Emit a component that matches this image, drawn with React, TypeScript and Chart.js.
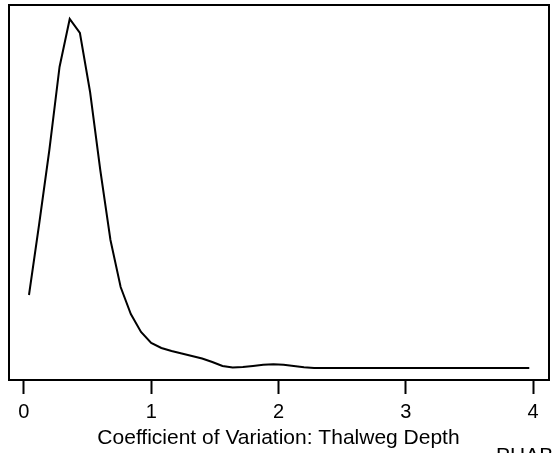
import React, { useEffect, useRef } from "react";
import { Chart, registerables } from "chart.js";

Chart.register(...registerables);

const xValues = [
  0.04, 0.12, 0.2, 0.28, 0.36, 0.44, 0.52, 0.6, 0.68, 0.76,
  0.84, 0.92, 1.0, 1.08, 1.16, 1.24, 1.32, 1.4, 1.48, 1.56,
  1.64, 1.72, 1.8, 1.88, 1.96, 2.04, 2.12, 2.2, 2.28, 2.36,
  2.44, 2.52, 2.6, 2.68, 2.76, 2.84, 2.92, 3.0, 3.08, 3.17,
  3.25, 3.33, 3.41, 3.49, 3.57, 3.65, 3.73, 3.81, 3.89, 3.97,
];
const densityValues = [
  0.73, 1.44, 2.18, 3.01, 3.49, 3.35, 2.76, 1.98, 1.28, 0.81,
  0.54, 0.36, 0.25, 0.2, 0.17, 0.145, 0.12, 0.095, 0.06, 0.02,
  0.005, 0.01, 0.02, 0.032, 0.037, 0.032, 0.02, 0.007, 0.0, 0.0,
  0.0, 0.0, 0.0, 0.0, 0.0, 0.0, 0.0, 0.0, 0.0, 0.0,
  0.0, 0.0, 0.0, 0.0, 0.0, 0.0, 0.0, 0.0, 0.0, 0.0,
];
const xTicks = [0, 1, 2, 3, 4];
const xLabel = "Coefficient of Variation: Thalweg Depth";
const cornerLabel = "PHAB";

const FONT = "'Liberation Sans', Arial, sans-serif";

export default function App() {
  const ref = useRef<HTMLCanvasElement>(null);
  useEffect(() => {
    if (!ref.current) return;
    const boxPlugin = {
      id: "boxPlugin",
      afterDraw(chart: any) {
        const { ctx, chartArea } = chart;
        ctx.save();
        ctx.strokeStyle = "#000";
        ctx.lineWidth = 2;
        ctx.strokeRect(chartArea.left, chartArea.top, chartArea.right - chartArea.left, chartArea.bottom - chartArea.top);
        ctx.fillStyle = "#000";
        ctx.font = `21px ${FONT}`;
        ctx.textBaseline = "alphabetic";
        ctx.textAlign = "center";
        const xs = chart.scales.x;
        const cx = (xs.getPixelForValue(xTicks[0]) + xs.getPixelForValue(xTicks[xTicks.length - 1])) / 2;
        ctx.fillText(xLabel, cx, 444);
        ctx.textAlign = "left";
        ctx.fillText(cornerLabel, 496, 462);
        ctx.restore();
      },
    };
    const chart = new Chart(ref.current, {
      type: "line",
      data: {
        datasets: [
          {
            data: xValues.map((x, i) => ({ x, y: densityValues[i] })),
            borderColor: "#000",
            borderWidth: 2,
            pointRadius: 0,
            tension: 0,
            fill: false,
          },
        ],
      },
      options: {
        responsive: false,
        animation: false,
        layout: { padding: { left: 9, right: 9, top: 5, bottom: 0 } },
        plugins: { legend: { display: false }, tooltip: { enabled: false }, title: { display: false } },
        scales: {
          x: {
            type: "linear",
            min: -0.117,
            max: 4.125,
            afterBuildTicks(scale: any) {
              scale.ticks = xTicks.map((v) => ({ value: v }));
            },
            afterFit(scale: any) {
              scale.height = 73;
            },
            border: { display: false },
            grid: {
              drawOnChartArea: false,
              drawTicks: true,
              tickLength: 14,
              tickWidth: 2,
              tickColor: "#000",
            },
            ticks: {
              color: "#000",
              font: { family: FONT, size: 20 },
              padding: 6,
              maxRotation: 0,
              autoSkip: false,
              callback: (v: any) => String(v),
            },
          },
          y: {
            display: false,
            min: -0.12,
            max: 3.63,
          },
        },
      },
      plugins: [boxPlugin],
    });
    return () => chart.destroy();
  }, []);
  return (
    <div style={{ position: "fixed", left: 0, top: 0, width: 558, height: 453, background: "#fff" }}>
      <canvas ref={ref} width={558} height={453} style={{ display: "block" }} />
    </div>
  );
}
